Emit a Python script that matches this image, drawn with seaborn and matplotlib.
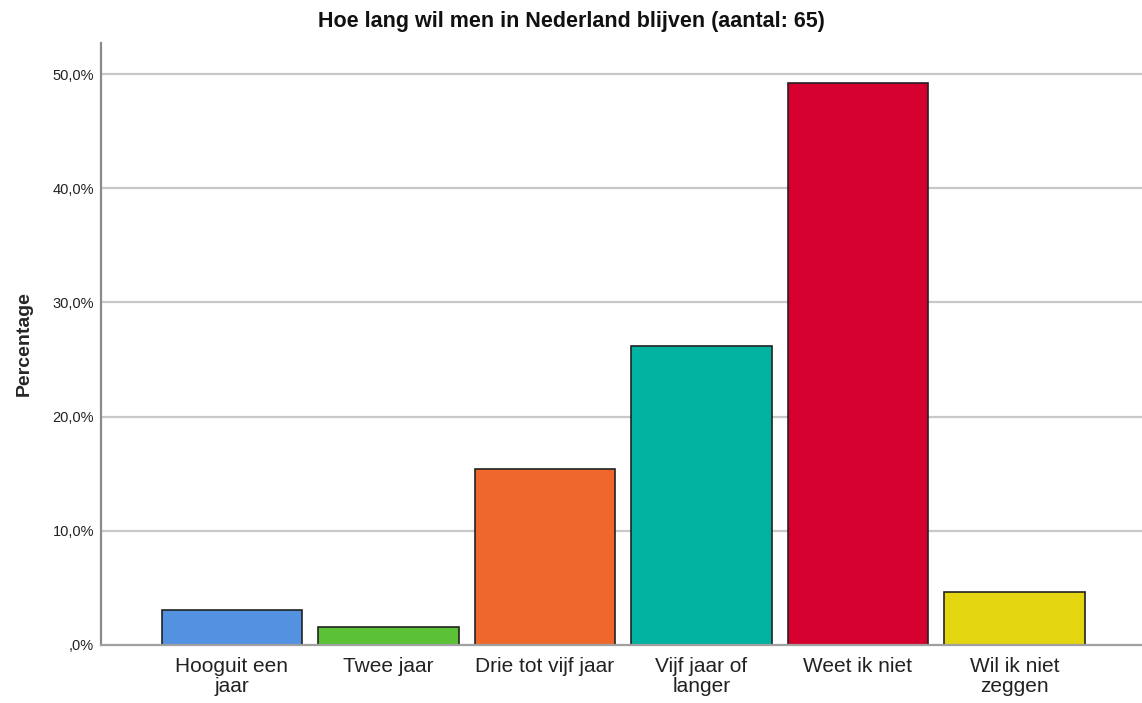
import matplotlib
matplotlib.use("Agg")
import matplotlib.pyplot as plt
import seaborn as sns
import pandas as pd

categories = ["Hooguit een\njaar", "Twee jaar", "Drie tot vijf jaar",
              "Vijf jaar of\nlanger", "Weet ik niet", "Wil ik niet\nzeggen"]
percentages = [3.08, 1.54, 15.38, 26.15, 49.23, 4.62]
colors = ["#5391E1", "#5BC236", "#F0672B", "#00B3A0", "#D6002F", "#E3D510"]
y_ticks = [0, 10, 20, 30, 40, 50]
y_tick_labels = [",0%", "10,0%", "20,0%", "30,0%", "40,0%", "50,0%"]
title = "Hoe lang wil men in Nederland blijven (aantal: 65)"
y_label = "Percentage"

sns.set_theme(style="white")
plt.rcParams["font.family"] = ["Liberation Sans", "DejaVu Sans"]

df = pd.DataFrame({"cat": categories, "pct": percentages})

fig = plt.figure(figsize=(11.42, 7.03), dpi=100)
ax = fig.add_axes([101 / 1142, 1 - 645 / 703, 1 - 101 / 1142, (645 - 43) / 703])

ax.set_axisbelow(True)
for t in y_ticks[1:]:
    ax.axhline(t, color="#C8C8C8", lw=1.6, zorder=0)

sns.barplot(data=df, x="cat", y="pct", hue="cat", palette=colors, legend=False,
            width=0.9, edgecolor="#222222", linewidth=1.2, saturation=1, ax=ax, zorder=2)

ax.set_xlim(-0.837, 5.815)
ax.set_ylim(0, (645 - 43) / 11.42)
ax.set_yticks(y_ticks)
ax.set_yticklabels(y_tick_labels, fontsize=10.5, color="#222222")
ax.tick_params(axis="y", length=0, pad=5)
ax.tick_params(axis="x", length=0, pad=9, labelsize=15)
for lbl in ax.get_xticklabels():
    lbl.set_color("#222222")
    lbl.set_linespacing(1.05)

ax.set_xlabel("")
ax.set_ylabel(y_label, fontsize=14, fontweight="bold", labelpad=14)

for s in ["top", "right"]:
    ax.spines[s].set_visible(False)
ax.spines["left"].set_color("#8A8A8A")
ax.spines["left"].set_linewidth(1.6)
ax.spines["bottom"].set_color("#A0A0A0")
ax.spines["bottom"].set_linewidth(1.6)

fig.text(0.5, 1 - 22 / 703, title, ha="center", va="center", fontsize=15.5,
         fontweight="bold", color="#111111")

fig.savefig("out.png", dpi=100, facecolor="white")
